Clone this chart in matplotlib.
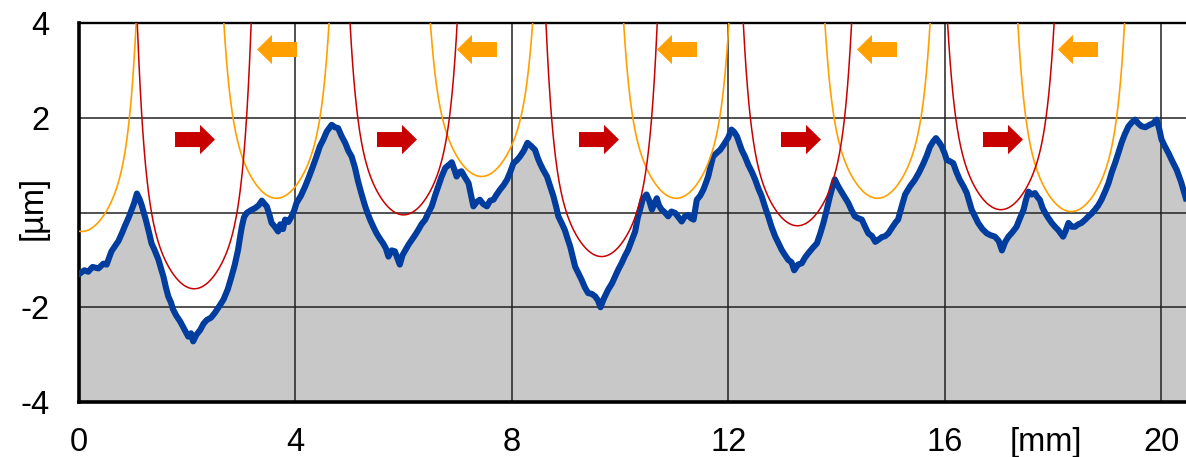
import numpy as np
import matplotlib
matplotlib.use("Agg")
from matplotlib import pyplot as plt
from matplotlib.patches import FancyArrow

plt.rcParams['font.family'] = ['Liberation Sans', 'DejaVu Sans']

# surface profile [mm] / [um]
prof_x = [0.00, 0.10, 0.17, 0.25, 0.36, 0.45, 0.51, 0.60, 0.67, 0.73, 0.80, 0.85, 0.92, 0.97,
          1.02, 1.07, 1.12, 1.16, 1.21, 1.25, 1.30, 1.34, 1.40, 1.47, 1.52, 1.56, 1.61, 1.65,
          1.70, 1.74, 1.80, 1.87, 1.94, 2.02, 2.07, 2.11, 2.17, 2.24, 2.30, 2.36, 2.44, 2.51,
          2.58, 2.67, 2.75, 2.82, 2.88, 2.94, 2.98, 3.01, 3.05, 3.10, 3.18, 3.25, 3.32, 3.38,
          3.43, 3.47, 3.52, 3.56, 3.62, 3.68, 3.72, 3.77, 3.81, 3.87, 3.93, 3.98, 4.02, 4.10,
          4.18, 4.24, 4.30, 4.38, 4.45, 4.52, 4.58, 4.67, 4.73, 4.79, 4.85, 4.92, 4.98, 5.04,
          5.10, 5.16, 5.22, 5.29, 5.33, 5.38, 5.44, 5.50, 5.56, 5.62, 5.67, 5.72, 5.78, 5.84,
          5.88, 5.93, 5.98, 6.03, 6.09, 6.15, 6.21, 6.27, 6.33, 6.40, 6.46, 6.52, 6.58, 6.64,
          6.70, 6.77, 6.83, 6.89, 6.94, 6.98, 7.03, 7.07, 7.13, 7.20, 7.25, 7.29, 7.35, 7.41,
          7.47, 7.54, 7.60, 7.66, 7.72, 7.78, 7.85, 7.91, 7.97, 8.03, 8.09, 8.15, 8.22, 8.29,
          8.36, 8.43, 8.48, 8.52, 8.58, 8.65, 8.71, 8.77, 8.82, 8.86, 8.92, 8.98, 9.03, 9.08,
          9.13, 9.17, 9.23, 9.29, 9.35, 9.41, 9.48, 9.54, 9.59, 9.64, 9.70, 9.78, 9.85, 9.91,
          9.97, 10.03, 10.09, 10.15, 10.22, 10.28, 10.33, 10.37, 10.42, 10.49, 10.54, 10.59,
          10.64, 10.68, 10.72, 10.77, 10.83, 10.89, 10.95, 11.02, 11.08, 11.14, 11.20, 11.26,
          11.31, 11.36, 11.42, 11.48, 11.54, 11.58, 11.63, 11.68, 11.72, 11.78, 11.85, 11.90,
          11.94, 12.00, 12.06, 12.11, 12.16, 12.20, 12.25, 12.31, 12.37, 12.44, 12.50, 12.56,
          12.62, 12.68, 12.74, 12.80, 12.87, 12.93, 12.99, 13.05, 13.11, 13.17, 13.22, 13.29,
          13.36, 13.42, 13.48, 13.56, 13.64, 13.70, 13.76, 13.82, 13.88, 13.93, 13.97, 14.02,
          14.07, 14.14, 14.22, 14.28, 14.34, 14.40, 14.47, 14.53, 14.59, 14.66, 14.72, 14.77,
          14.84, 14.90, 14.96, 15.04, 15.10, 15.14, 15.20, 15.27, 15.36, 15.45, 15.53, 15.61,
          15.67, 15.73, 15.79, 15.84, 15.90, 15.95, 16.00, 16.04, 16.10, 16.16, 16.22, 16.28,
          16.35, 16.41, 16.46, 16.50, 16.56, 16.62, 16.70, 16.78, 16.85, 16.93, 17.00, 17.06,
          17.12, 17.18, 17.25, 17.33, 17.40, 17.46, 17.50, 17.55, 17.61, 17.67, 17.72, 17.76,
          17.81, 17.86, 17.92, 17.98, 18.04, 18.10, 18.15, 18.19, 18.24, 18.29, 18.35, 18.41,
          18.47, 18.53, 18.60, 18.66, 18.72, 18.78, 18.84, 18.90, 18.97, 19.03, 19.09, 19.15,
          19.21, 19.27, 19.33, 19.40, 19.46, 19.52, 19.58, 19.64, 19.71, 19.79, 19.85, 19.92,
          19.97, 20.01, 20.07, 20.14, 20.21, 20.29, 20.37, 20.46]
prof_y = [-1.30, -1.22, -1.25, -1.15, -1.18, -1.08, -1.10, -0.82, -0.70, -0.60, -0.42, -0.28, -0.10, 0.05,
          0.20, 0.40, 0.28, 0.15, -0.05, -0.22, -0.45, -0.65, -0.80, -1.00, -1.20, -1.35, -1.60, -1.77,
          -1.90, -2.05, -2.18, -2.30, -2.45, -2.62, -2.55, -2.72, -2.58, -2.48, -2.35, -2.27, -2.22, -2.12,
          -2.00, -1.84, -1.62, -1.35, -1.10, -0.79, -0.50, -0.30, -0.10, -0.01, 0.05, 0.09, 0.15, 0.25,
          0.18, 0.13, -0.05, -0.22, -0.30, -0.40, -0.25, -0.35, -0.15, -0.20, -0.08, 0.05, 0.20, 0.35,
          0.55, 0.72, 0.90, 1.15, 1.39, 1.55, 1.71, 1.85, 1.80, 1.78, 1.62, 1.47, 1.30, 1.18,
          0.95, 0.65, 0.40, 0.13, 0.00, -0.15, -0.30, -0.44, -0.55, -0.65, -0.75, -0.93, -0.80, -0.82,
          -0.95, -1.10, -0.90, -0.80, -0.68, -0.58, -0.48, -0.37, -0.25, -0.15, 0.00, 0.13, 0.35, 0.55,
          0.75, 0.94, 1.00, 1.06, 0.90, 0.76, 0.85, 0.87, 0.75, 0.62, 0.35, 0.13, 0.22, 0.27,
          0.18, 0.13, 0.25, 0.27, 0.38, 0.48, 0.58, 0.69, 0.85, 1.04, 1.10, 1.18, 1.30, 1.47,
          1.40, 1.32, 1.15, 1.04, 0.90, 0.76, 0.55, 0.34, 0.12, -0.08, -0.22, -0.37, -0.55, -0.72,
          -0.95, -1.14, -1.28, -1.42, -1.58, -1.70, -1.72, -1.77, -1.85, -2.00, -1.82, -1.63, -1.50, -1.35,
          -1.20, -1.07, -0.92, -0.79, -0.58, -0.40, -0.10, 0.06, 0.28, 0.38, 0.25, 0.06,
          0.20, 0.30, 0.15, 0.06, 0.00, -0.08, 0.02, -0.01, -0.10, -0.19, -0.08, -0.05,
          -0.12, -0.15, 0.27, 0.35, 0.48, 0.60, 0.76, 1.00, 1.18, 1.25, 1.32, 1.40,
          1.47, 1.58, 1.75, 1.70, 1.61, 1.48, 1.32, 1.18, 1.01, 0.85, 0.69, 0.50,
          0.34, 0.12, -0.08, -0.30, -0.51, -0.65, -0.79, -0.90, -1.00, -1.05, -1.22, -1.10,
          -1.07, -0.95, -0.86, -0.75, -0.65, -0.45, -0.22, 0.05, 0.34, 0.55, 0.70, 0.58,
          0.48, 0.35, 0.20, 0.05, -0.08, -0.12, -0.15, -0.30, -0.44, -0.50, -0.62, -0.58,
          -0.52, -0.50, -0.44, -0.30, -0.20, -0.15, 0.10, 0.38, 0.55, 0.69, 0.85, 1.04,
          1.20, 1.39, 1.50, 1.57, 1.48, 1.39, 1.25, 1.11, 1.08, 1.04, 0.85, 0.69,
          0.55, 0.41, 0.22, 0.06, -0.08, -0.22, -0.35, -0.44, -0.48, -0.51, -0.60, -0.80,
          -0.62, -0.51, -0.42, -0.30, -0.10, 0.06, 0.25, 0.44, 0.38, 0.41, 0.32, 0.27,
          0.10, -0.01, -0.12, -0.22, -0.30, -0.37, -0.45, -0.51, -0.38, -0.22, -0.30, -0.30,
          -0.25, -0.22, -0.15, -0.08, -0.02, 0.06, 0.15, 0.27, 0.45, 0.62, 0.85, 1.04,
          1.25, 1.47, 1.65, 1.82, 1.90, 1.96, 1.88, 1.82, 1.80, 1.85, 1.88, 1.96,
          1.75, 1.54, 1.40, 1.25, 1.08, 0.90, 0.65, 0.30]

# stylus tip positions (vertex of each tip curve)
fwd_x = [2.13, 6.00, 9.66, 13.28, 17.04]      # red, moving right
fwd_y = [-1.61, -0.05, -0.93, -0.28, 0.06]
back_x = [0.05, 3.65, 7.44, 11.04, 14.76, 18.34]  # orange, moving left
back_y = [-0.40, 0.30, 0.76, 0.30, 0.30, 0.02]

# arrow tails
fwd_arrow_x = [1.775, 5.508, 9.242, 12.976, 16.710]
back_arrow_x = [4.030, 7.726, 11.423, 15.120, 18.835]

RED = '#C80000'
ORANGE = '#FFA000'
BLUE = '#003D9E'

def tip(x0, y0):
    dx = np.linspace(-1.25, 1.25, 400)
    return x0 + dx, y0 + 2.04 * dx**2 + 2.22 * dx**8

fig = plt.figure(figsize=(11.86, 4.57), dpi=100)
ax = fig.add_axes([79/1186, 1 - 402/457, 1 - 79/1186, 379/457])
xmax = (1186 - 79) / 54.1
ax.set_xlim(0, xmax)
ax.set_ylim(-4, 4)

ax.fill_between(prof_x, prof_y, -4, color='#C8C8C8', lw=0, zorder=1)
for g in [4, 8, 12, 16, 20]:
    ax.axvline(g, color='#222222', lw=1.1, zorder=1.5)
for g in [-2, 0, 2]:
    ax.axhline(g, color='#222222', lw=1.1, zorder=1.5)

ax.plot(prof_x, prof_y, color=BLUE, lw=4.4, zorder=3, solid_joinstyle='round')

for x0, y0 in zip(back_x, back_y):
    cx, cy = tip(x0, y0)
    ax.plot(cx, cy, color=ORANGE, lw=1.2, zorder=4)
for x0, y0 in zip(fwd_x, fwd_y):
    cx, cy = tip(x0, y0)
    ax.plot(cx, cy, color=RED, lw=1.1, zorder=4)

alen = 0.739
for xa in fwd_arrow_x:
    ax.add_patch(FancyArrow(xa, 1.54, alen, 0, width=0.317, head_width=0.62,
                            head_length=0.277, length_includes_head=True,
                            color=RED, lw=0, zorder=5))
for xa in back_arrow_x:
    ax.add_patch(FancyArrow(xa, 3.44, -alen, 0, width=0.317, head_width=0.62,
                            head_length=0.277, length_includes_head=True,
                            color=ORANGE, lw=0, zorder=5))

ax.set_xticks([0, 4, 8, 12, 16, 20])
ax.set_yticks([-4, -2, 2, 4])
ax.set_yticklabels(['-4', '-2', '2', '4'])
ax.tick_params(axis='x', length=0, labelsize=23.5, pad=18)
ax.tick_params(axis='y', length=0, labelsize=23.5, pad=21)

ax.spines['right'].set_visible(False)
ax.spines['left'].set_linewidth(2.6)
ax.spines['bottom'].set_linewidth(2.6)
ax.spines['top'].set_linewidth(1.7)

ax.annotate('[mm]', xy=(17.87, 0), xycoords=('data', 'axes fraction'),
            xytext=(0, -18), textcoords='offset points', ha='center', va='top',
            fontsize=23.5)
ax.text((33.5 - 79) / 1107, 0.513, '[µm]', transform=ax.transAxes, rotation=90,
        ha='center', va='center', fontsize=23.5)

fig.savefig('out.png', dpi=100)
